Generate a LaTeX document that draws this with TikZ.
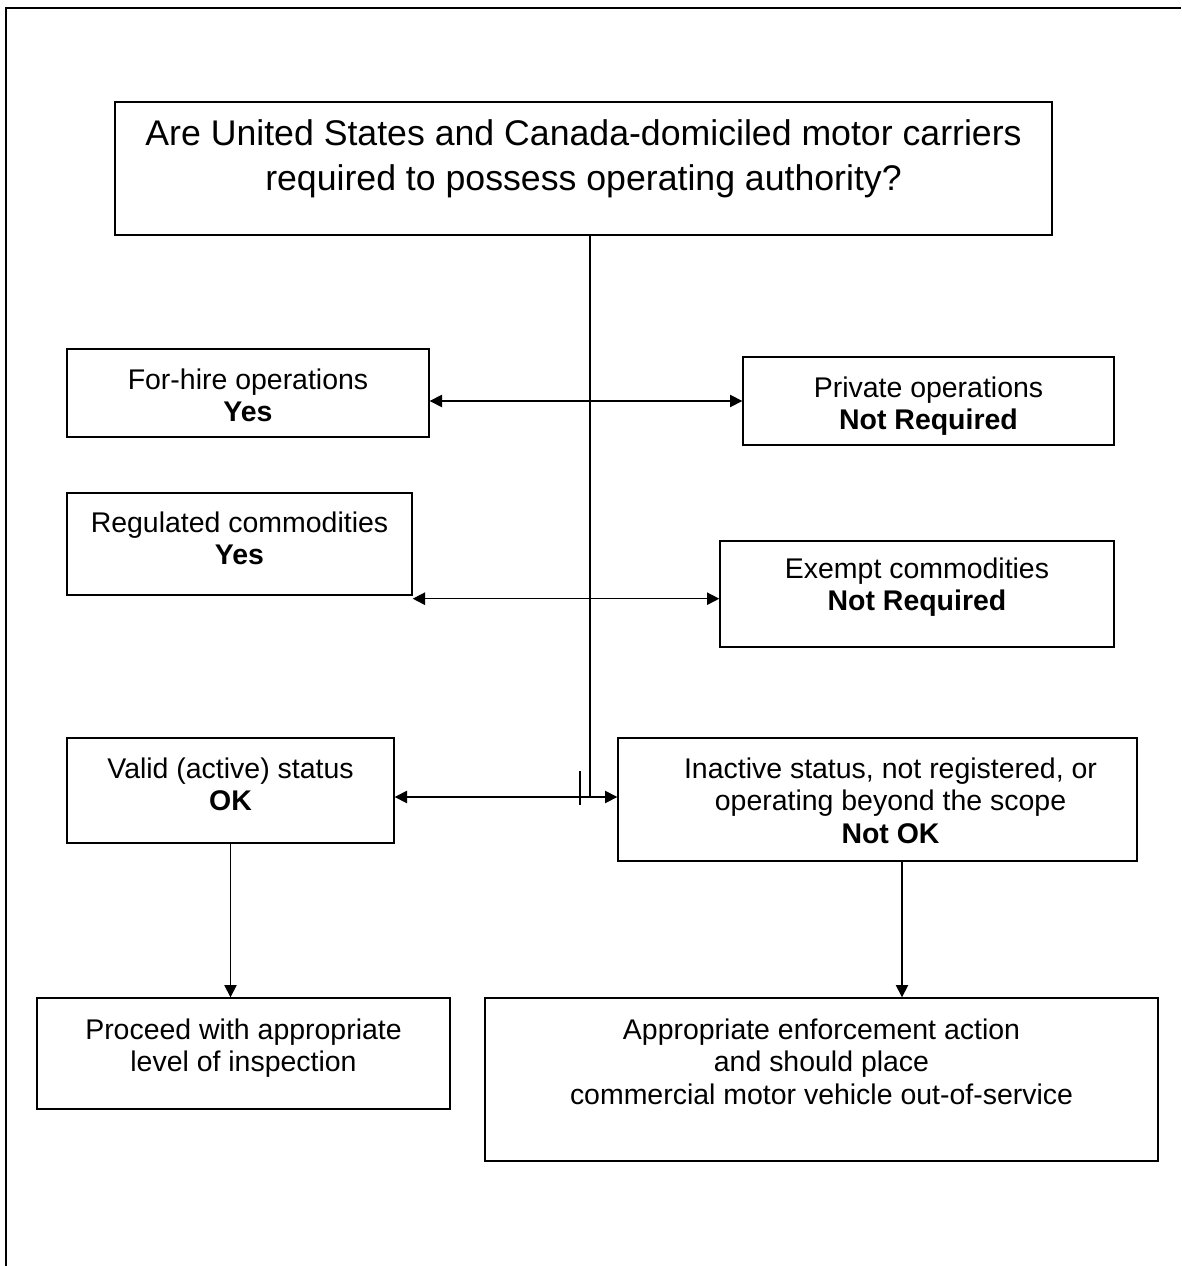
\documentclass[tikz,border=0pt]{standalone}
\usepackage{fontspec}
\setmainfont{Liberation Sans}
\usetikzlibrary{arrows.meta,calc,fit}

\begin{document}
\begin{tikzpicture}[
  x=0.02cm, y=-0.02cm,
  box/.style={draw, line width=0.8pt, inner sep=0pt},
  txt/.style={align=center, inner sep=0pt, font=\fontsize{16.2}{18.5}\selectfont},
  bigtxt/.style={txt, font=\fontsize{20.3}{25.6}\selectfont},
  link/.style={line width=0.9pt},
  >={Triangle[length=7pt,width=7pt]}
]

\useasboundingbox (0,0) rectangle (1181,1266);

% Page frame
\draw[line width=1.6pt] (6,1266) -- (6,8) -- (1181,8);

% Boxes
\node[box, fit={(115,102) (1052,235)}] (question) {};
\node[box, fit={(67,349) (429,437)}] (forhire) {};
\node[box, fit={(743,357) (1114,445)}] (private) {};
\node[box, fit={(67,493) (412,595)}] (regulated) {};
\node[box, fit={(720,541) (1114,647)}] (exempt) {};
\node[box, fit={(67,738) (394,843)}] (valid) {};
\node[box, fit={(618,738) (1137,861)}] (inactive) {};
\node[box, fit={(37,998) (450,1109)}] (proceed) {};
\node[box, fit={(485,998) (1158,1161)}] (enforce) {};

% Box texts
\node[bigtxt, anchor=north] (question-t) at ($(question.north)+(0,18)$)
  {Are United States and Canada-domiciled motor carriers\\required to possess operating authority?};
\node[txt, anchor=north] (forhire-t) at ($(forhire.north)+(0,20)$)
  {For-hire operations\\\textbf{Yes}};
\node[txt, anchor=north] (private-t) at ($(private.north)+(0,20)$)
  {Private operations\\\textbf{Not Required}};
\node[txt, anchor=north] (regulated-t) at ($(regulated.north)+(0,19)$)
  {Regulated commodities\\\textbf{Yes}};
\node[txt, anchor=north] (exempt-t) at ($(exempt.north)+(0,17)$)
  {Exempt commodities\\\textbf{Not Required}};
\node[txt, anchor=north] (valid-t) at ($(valid.north)+(0,20)$)
  {Valid (active) status\\\textbf{OK}};
\node[txt, anchor=north] (inactive-t) at ($(inactive.north)+(13,20)$)
  {Inactive status, not registered, or\\operating beyond the scope\\\textbf{Not OK}};
\node[txt, anchor=north] (proceed-t) at ($(proceed.north)+(0,21)$)
  {Proceed with appropriate\\level of inspection};
\node[txt, anchor=north] (enforce-t) at ($(enforce.north)+(0,21)$)
  {Appropriate enforcement action\\and should place\\commercial motor vehicle out-of-service};

% Connectors
\coordinate (stem) at (590,797);
\coordinate (regarr) at ($(regulated.south east)+(0,3)$);
\coordinate (drop) at ($(inactive.south)+(24.5,0)$);

\draw[link] (stem |- question.south) -- (stem);
\draw[link, <->] (forhire.east |- private.west) -- (private.west);
\draw[link, <->] (regarr) -- (regarr -| exempt.west);
\draw[link, <->] (valid.east |- stem) -- (inactive.west |- stem);
\draw[link] ($(stem)+(-10,-26)$) -- ($(stem)+(-10,8)$);
\draw[link, ->] (valid.south) -- (valid.south |- proceed.north);
\draw[link, ->] (drop) -- (drop |- enforce.north);
\end{tikzpicture}
\end{document}
